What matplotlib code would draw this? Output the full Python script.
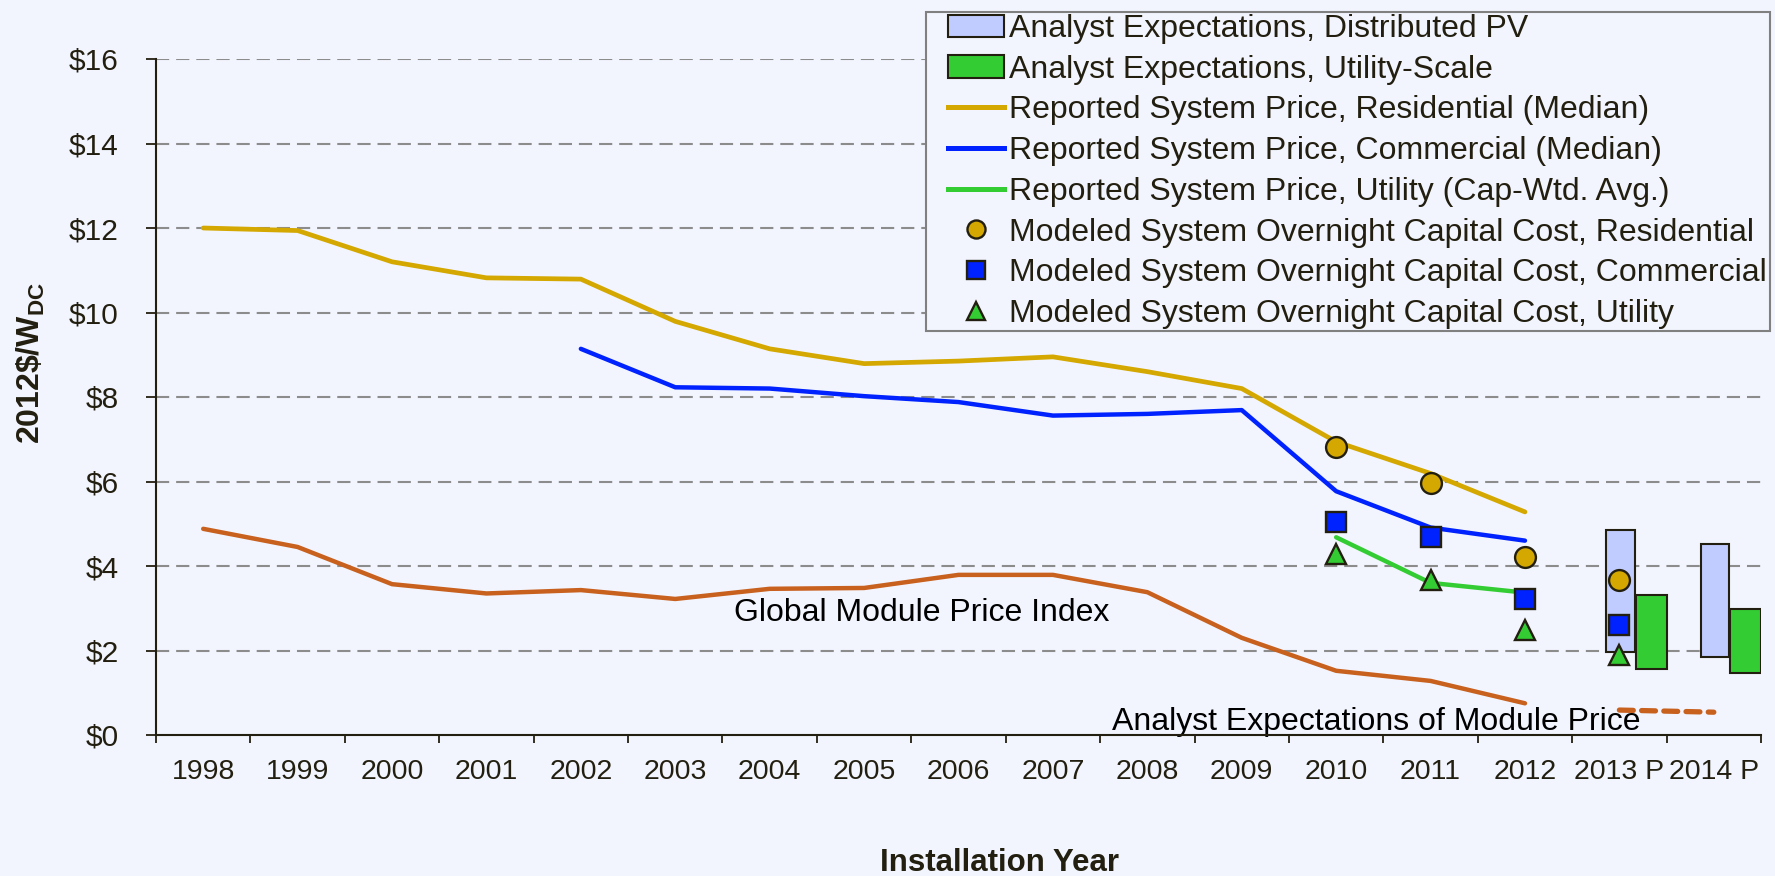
import matplotlib
matplotlib.use("Agg")
import matplotlib.pyplot as plt
from matplotlib.lines import Line2D
from matplotlib.patches import Patch, Rectangle
import numpy as np

plt.rcParams["font.family"] = ["Liberation Sans", "DejaVu Sans"]
plt.rcParams["mathtext.fontset"] = "custom"
plt.rcParams["mathtext.bf"] = "Liberation Sans:bold"
plt.rcParams["mathtext.rm"] = "Liberation Sans"
plt.rcParams["lines.scale_dashes"] = False

""" data """
years = ["1998", "1999", "2000", "2001", "2002", "2003", "2004", "2005", "2006",
         "2007", "2008", "2009", "2010", "2011", "2012", "2013 P", "2014 P"]

# reported system prices (1998-2012)
residential = [12.0, 11.94, 11.2, 10.82, 10.79, 9.79, 9.14, 8.79, 8.85,
               8.95, 8.6, 8.2, 6.94, 6.19, 5.28]
commercial_years = list(range(4, 15))
commercial = [9.14, 8.23, 8.2, 8.02, 7.88, 7.56, 7.6, 7.69, 5.77, 4.91, 4.6]
utility_years = [12, 13, 14]
utility = [4.68, 3.6, 3.37]
module = [4.88, 4.45, 3.57, 3.35, 3.43, 3.22, 3.46, 3.48, 3.79,
          3.79, 3.38, 2.3, 1.52, 1.28, 0.75]

# modeled overnight capital cost (2010-2013)
modeled_years = [12, 13, 14, 15]
modeled_res = [6.81, 5.97, 4.21, 3.67]
modeled_com = [5.03, 4.68, 3.22, 2.6]
modeled_util = [4.28, 3.66, 2.49, 1.9]

# analyst expectations (2013 P, 2014 P)
exp_years = [15, 16]
exp_dist_low = [1.97, 1.85]
exp_dist_high = [4.85, 4.52]
exp_util_low = [1.56, 1.47]
exp_util_high = [3.31, 2.98]
exp_module = [0.59, 0.54]

""" colours """
bg = "#F2F5FE"
dark = "#231F10"
gold = "#D4A800"
blue = "#0022FF"
green = "#33CC33"
orange = "#C8601E"
lightblue = "#C0CCFF"

fig = plt.figure(figsize=(17.75, 8.76), dpi=100, facecolor=bg)
ax = fig.add_axes([156 / 1775, 141 / 876, 1605 / 1775, 676 / 876])
ax.set_facecolor(bg)

""" grid """
for v in range(2, 17, 2):
    ax.axhline(v, color="#8C8C8C", lw=1.5, ls=(0, (9.5, 5)), zorder=0)

""" lines """
x_all = np.arange(len(residential))
ax.plot(x_all, residential, color=gold, lw=3.4, solid_capstyle="round", zorder=3)
ax.plot(commercial_years, commercial, color=blue, lw=3.2, solid_capstyle="round", zorder=3)
ax.plot(utility_years, utility, color=green, lw=3.2, solid_capstyle="round", zorder=3)
ax.plot(x_all, module, color=orange, lw=3.2, solid_capstyle="round", zorder=3)
ax.plot(exp_years, exp_module, color=orange, lw=3.8, ls=(0, (10, 6)),
        dash_capstyle="round", zorder=3)

""" analyst expectation bars """
ex = np.array(exp_years)
ax.bar(ex + 0.012, np.array(exp_dist_high) - np.array(exp_dist_low), width=0.3,
       bottom=exp_dist_low, color=lightblue, edgecolor=dark, lw=1.5, zorder=2)
ax.bar(ex + 0.34, np.array(exp_util_high) - np.array(exp_util_low), width=0.33,
       bottom=exp_util_low, color=green, edgecolor=dark, lw=1.5, zorder=2)

""" modeled markers """
mk = dict(ls="none", mec=dark, mew=1.7, zorder=5)
ax.plot(modeled_years, modeled_res, marker="o", ms=15, mfc=gold, **mk)
ax.plot(modeled_years, modeled_com, marker="s", ms=14.5, mfc=blue, **mk)
ax.plot(modeled_years, modeled_util, marker="^", ms=15, mfc=green, **mk)

""" annotations """
ax.text(7.61, 2.89, "Global Module Price Index", fontsize=23, color="black",
        ha="center", va="center", zorder=4)
ax.text(12.43, 0.31, "Analyst Expectations of Module Price", fontsize=23,
        color="black", ha="center", va="center", zorder=2)

""" axes """
ax.set_xlim(-0.5, len(years) - 0.5)
ax.set_ylim(0, 16)
ax.set_yticks(range(0, 17, 2))
ax.set_yticklabels(["${}".format(v) for v in range(0, 17, 2)])
ax.set_xticks(np.arange(len(years)))
ax.set_xticklabels(years)
ax.set_xticks(np.arange(len(years) + 1) - 0.5, minor=True)
ax.tick_params(axis="x", which="major", length=0, pad=17, labelsize=20.5, colors=dark)
ax.tick_params(axis="x", which="minor", length=6, width=1.3, color=dark, direction="out")
ax.tick_params(axis="y", length=7, width=1.3, color=dark, pad=20, labelsize=21.5,
               labelcolor=dark)
for s in ["top", "right"]:
    ax.spines[s].set_visible(False)
for s in ["left", "bottom"]:
    ax.spines[s].set_color(dark)
    ax.spines[s].set_linewidth(1.5)

fig.text(31 / 1775, 1 - 363 / 876, r"$\mathbf{2012\$/W_{DC}}$", rotation=90,
         fontsize=23, color=dark, ha="center", va="center")
fig.text(999 / 1775, 1 - 863 / 876, "Installation Year", fontsize=22.5,
         fontweight="bold", color=dark, ha="center", va="center")

""" legend """
handles = [
    Patch(facecolor=lightblue, edgecolor=dark, lw=1.5),
    Patch(facecolor=green, edgecolor=dark, lw=1.5),
    Line2D([], [], color=gold, lw=3.6),
    Line2D([], [], color=blue, lw=3.6),
    Line2D([], [], color=green, lw=3.6),
    Line2D([], [], marker="o", ms=13, mfc=gold, **mk),
    Line2D([], [], marker="s", ms=12.5, mfc=blue, **mk),
    Line2D([], [], marker="^", ms=13, mfc=green, **mk),
]
labels = [
    "Analyst Expectations, Distributed PV",
    "Analyst Expectations, Utility-Scale",
    "Reported System Price, Residential (Median)",
    "Reported System Price, Commercial (Median)",
    "Reported System Price, Utility (Cap-Wtd. Avg.)",
    "Modeled System Overnight Capital Cost, Residential",
    "Modeled System Overnight Capital Cost, Commercial",
    "Modeled System Overnight Capital Cost, Utility",
]
fig.patches.append(Rectangle((926 / 1775, 1 - 331 / 876), 844 / 1775, 319 / 876,
                             transform=fig.transFigure, facecolor=bg,
                             edgecolor="#808080", lw=1.5, zorder=0))
leg = fig.legend(handles, labels, loc="upper left",
                 bbox_to_anchor=(948 / 1775, 1 - 14 / 876),
                 bbox_transform=fig.transFigure, borderaxespad=0,
                 fontsize=23, frameon=False, handlelength=1.75,
                 handletextpad=0.15, labelspacing=0.335, borderpad=0)
for t in leg.get_texts():
    t.set_color(dark)

fig.savefig("out.png", dpi=100, facecolor=bg)
